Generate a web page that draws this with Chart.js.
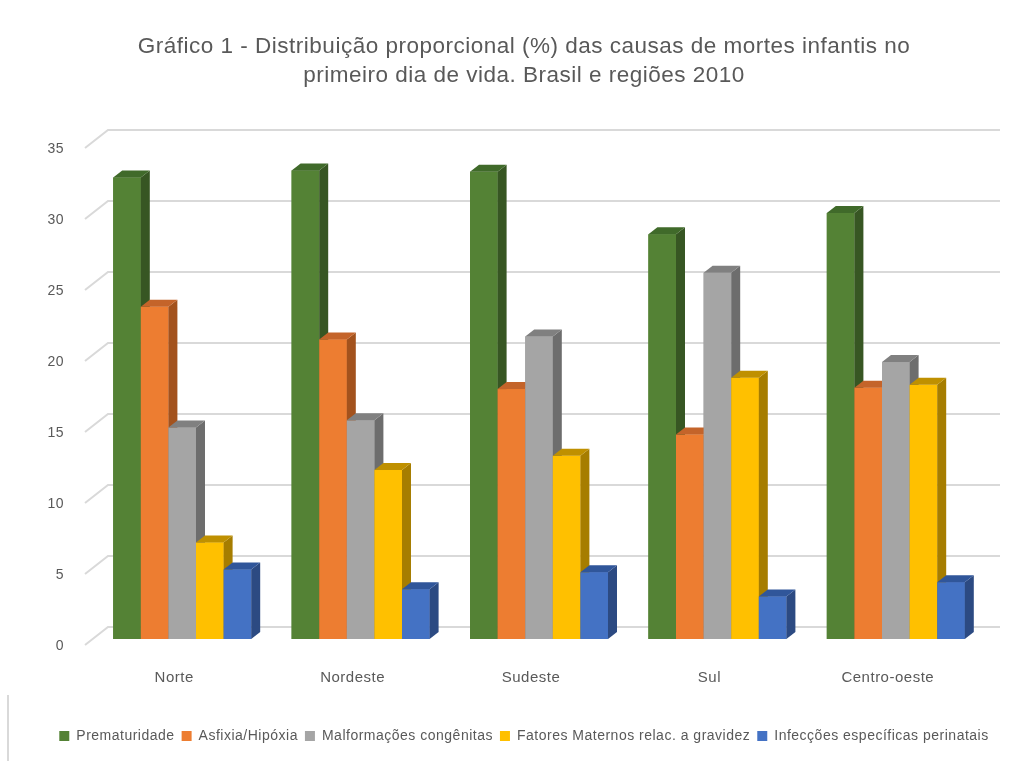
<!DOCTYPE html>
<html lang="pt-BR">
<head>
<meta charset="utf-8">
<title>Causas de mortes infantis no primeiro dia de vida</title>
<script src="https://cdn.jsdelivr.net/npm/chart.js@4.4.1/dist/chart.umd.min.js"></script>
<style>
  html, body { margin: 0; padding: 0; background: #ffffff; }
  #wrap { width: 1031px; height: 761px; position: relative; }
  canvas { display: block; }
</style>
</head>
<body>
<div id="wrap"><canvas id="grafico" width="1031" height="761"></canvas></div>
<script>
// Regiões e proporções (%) por causa de morte
const regioes = ['Norte', 'Nordeste', 'Sudeste', 'Sul', 'Centro-oeste'];
const prematuridade = [32.5, 33.0, 32.9, 28.5, 30.0];
const asfixiaHipoxia = [23.4, 21.1, 17.6, 14.4, 17.7];
const malformacoes = [14.9, 15.4, 21.3, 25.8, 19.5];
const fatoresMaternos = [6.8, 11.9, 12.9, 18.4, 17.9];
const infeccoes = [4.9, 3.5, 4.7, 3.0, 4.0];
const nomesSeries = ['Prematuridade', 'Asfixia/Hipóxia', 'Malformações congênitas',
  'Fatores Maternos relac. a gravidez', 'Infecções específicas perinatais'];
const yTicks = [0, 5, 10, 15, 20, 25, 30, 35];
const titulo = ['Gráfico 1 - Distribuição proporcional (%) das causas de mortes infantis no',
  'primeiro dia de vida. Brasil e regiões 2010'];

// Cores: face frontal, lateral e superior de cada série
const cores = [
  { front: '#548235', side: '#375623', top: '#406a2a' },
  { front: '#ED7D31', side: '#A3521D', top: '#C4642A' },
  { front: '#A5A5A5', side: '#6D6D6D', top: '#808080' },
  { front: '#FFC000', side: '#A67D00', top: '#BF9000' },
  { front: '#4472C4', side: '#2C4A82', top: '#30569A' }
];

const TEXTO = '#595959';
const GRADE = '#d9d9d9';
const FONTE = "'Liberation Sans', Arial, sans-serif";

// Profundidade de cada coluna e das paredes (projeção oblíqua)
const COL_DX = 9, COL_DY = -7;
const FRENTE_DX = -8, FRENTE_DY = 6;
const FUNDO_DX = 15, FUNDO_DY = -12;

Chart.defaults.font.family = FONTE;
Chart.defaults.color = TEXTO;

const espacamento = {
  id: 'espacamento',
  beforeUpdate(chart) { chart.ctx.letterSpacing = '0.5px'; },
  beforeDraw(chart) { chart.ctx.letterSpacing = '0.5px'; }
};

// Linhas de grade na parede do fundo e na parede lateral esquerda
const paredes = {
  id: 'paredes',
  beforeDatasetsDraw(chart) {
    const { ctx, chartArea } = chart;
    const y = chart.scales.y;
    ctx.save();
    ctx.strokeStyle = GRADE;
    ctx.lineWidth = 2;
    yTicks.forEach(v => {
      const py = y.getPixelForValue(v);
      ctx.beginPath();
      ctx.moveTo(chartArea.left + FRENTE_DX, py + FRENTE_DY);
      ctx.lineTo(chartArea.left + FUNDO_DX, py + FUNDO_DY);
      ctx.lineTo(chartArea.right + FUNDO_DX, py + FUNDO_DY);
      ctx.stroke();
    });
    ctx.restore();
  },
  afterDraw(chart) {
    const { ctx } = chart;
    ctx.save();
    ctx.strokeStyle = GRADE;
    ctx.lineWidth = 2;
    ctx.beginPath();
    ctx.moveTo(8, 695);
    ctx.lineTo(8, 761);
    ctx.stroke();
    ctx.restore();
  }
};

// Colunas em 3D: frente, lateral e topo, da esquerda para a direita
const colunas3d = {
  id: 'colunas3d',
  afterDatasetsDraw(chart) {
    const { ctx } = chart;
    ctx.save();
    chart.data.datasets.forEach((ds, i) => {
      const meta = chart.getDatasetMeta(i);
      const c = cores[i];
      meta.data.forEach(el => {
        const p = el.getProps(['x', 'y', 'base', 'width'], true);
        const x1 = p.x - p.width / 2, x2 = p.x + p.width / 2;
        const top = Math.min(p.y, p.base), bot = Math.max(p.y, p.base);
        // frente
        ctx.fillStyle = c.front;
        ctx.fillRect(x1, top, x2 - x1, bot - top);
        // lateral
        ctx.fillStyle = c.side;
        ctx.beginPath();
        ctx.moveTo(x2, top);
        ctx.lineTo(x2 + COL_DX, top + COL_DY);
        ctx.lineTo(x2 + COL_DX, bot + COL_DY);
        ctx.lineTo(x2, bot);
        ctx.closePath();
        ctx.fill();
        // topo
        ctx.fillStyle = c.top;
        ctx.beginPath();
        ctx.moveTo(x1, top);
        ctx.lineTo(x2, top);
        ctx.lineTo(x2 + COL_DX, top + COL_DY);
        ctx.lineTo(x1 + COL_DX, top + COL_DY);
        ctx.closePath();
        ctx.fill();
      });
    });
    ctx.restore();
  }
};

const series = [prematuridade, asfixiaHipoxia, malformacoes, fatoresMaternos, infeccoes];

new Chart(document.getElementById('grafico'), {
  type: 'bar',
  data: {
    labels: regioes,
    datasets: series.map((valores, i) => ({
      label: nomesSeries[i],
      data: valores,
      backgroundColor: cores[i].front,
      borderWidth: 0,
      categoryPercentage: 0.7735,
      barPercentage: 1.0
    }))
  },
  options: {
    responsive: false,
    animation: false,
    devicePixelRatio: 1,
    layout: { padding: { top: 2, left: 17, right: 0, bottom: 8 } },
    events: [],
    scales: {
      x: {
        grid: { display: false },
        border: { display: false },
        ticks: { font: { size: 15 }, color: TEXTO, padding: 21.5, labelOffset: -8 },
        afterFit(s) {
          const lg = s.chart.legend && s.chart.legend.height ? s.chart.legend.height : 30;
          s.height = s.chart.height - 8 - lg - 639;
        }
      },
      y: {
        min: 0, max: 35,
        grid: { display: false, drawTicks: false },
        border: { display: false },
        ticks: {
          stepSize: 5,
          font: { size: 14 },
          color: TEXTO,
          padding: 29,
          labelOffset: 7
        },
        afterFit(s) { s.width = 76; }
      },
      yDir: {
        type: 'linear',
        position: 'right',
        axis: 'y',
        grid: { display: false },
        border: { display: false },
        ticks: { display: false },
        afterFit(s) { s.width = 46; }
      }
    },
    plugins: {
      title: {
        display: true,
        text: titulo,
        color: TEXTO,
        font: { size: 22.5, weight: 'normal', lineHeight: 29.5 / 22.5 },
        padding: { top: 30, bottom: 51 }
      },
      legend: {
        position: 'bottom',
        labels: {
          boxWidth: 10,
          boxHeight: 10,
          padding: 7,
          color: TEXTO,
          font: { size: 14 }
        }
      },
      tooltip: { enabled: false }
    }
  },
  plugins: [espacamento, paredes, colunas3d]
});
</script>
</body>
</html>
